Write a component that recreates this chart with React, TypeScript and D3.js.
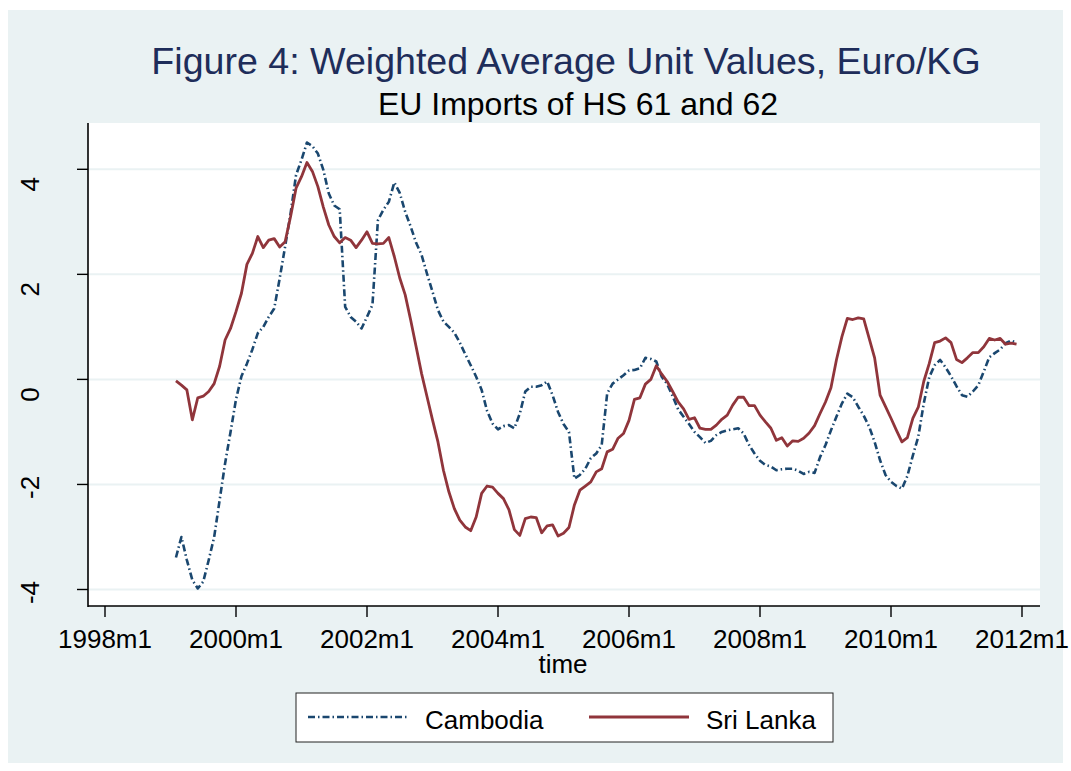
import React from "react";
import * as d3 from "d3";

// month index: 0 = 1998m1
const START_MONTH = 13; // 1999m2
const tickMonths = [0, 24, 48, 72, 96, 120, 144, 168];
const tickLabels = ["1998m1", "2000m1", "2002m1", "2004m1", "2006m1", "2008m1", "2010m1", "2012m1"];
const yTicks = [-4, -2, 0, 2, 4];
const yTickLabels = ["-4", "-2", "0", "2", "4"];

const cambodia = [
  // 1999 (Feb-Dec)
  -3.39, -3.0, -3.44, -3.82, -3.98, -3.85, -3.44, -3.0, -2.3, -1.6, -1.0,
  // 2000
  -0.38, 0.06, 0.3, 0.57, 0.88, 1.0, 1.19, 1.35, 1.92, 2.53, 3.16, 3.89,
  // 2001
  4.18, 4.51, 4.44, 4.3, 3.99, 3.54, 3.31, 3.24, 1.38, 1.19, 1.1, 0.97,
  // 2002
  1.19, 1.42, 3.03, 3.23, 3.38, 3.75, 3.55, 3.19, 2.91, 2.6, 2.37, 2.01,
  // 2003
  1.67, 1.32, 1.1, 1.0, 0.89, 0.7, 0.48, 0.27, 0.05, -0.2, -0.6, -0.84,
  // 2004
  -0.95, -0.89, -0.87, -0.93, -0.65, -0.23, -0.14, -0.14, -0.11, -0.04, -0.3, -0.62,
  // 2005
  -0.85, -1.0, -1.89, -1.82, -1.7, -1.5, -1.41, -1.25, -0.27, -0.08, 0.0, 0.08,
  // 2006
  0.17, 0.18, 0.21, 0.41, 0.39, 0.34, 0.05, -0.09, -0.32, -0.57, -0.71, -0.85,
  // 2007
  -1.0, -1.1, -1.21, -1.17, -1.06, -1.0, -0.97, -0.95, -0.93, -1.03, -1.25, -1.41,
  // 2008
  -1.55, -1.63, -1.66, -1.73, -1.71, -1.7, -1.7, -1.74, -1.8, -1.76, -1.78, -1.48,
  // 2009
  -1.25, -0.97, -0.71, -0.46, -0.27, -0.34, -0.52, -0.69, -0.9, -1.19, -1.54, -1.82,
  // 2010
  -1.95, -2.03, -2.08, -1.84, -1.45, -1.09, -0.46, 0.04, 0.27, 0.37, 0.23, 0.06,
  // 2011
  -0.13, -0.3, -0.33, -0.23, -0.11, 0.15, 0.42, 0.5, 0.57, 0.69, 0.74, 0.7,
];

const sriLanka = [
  // 1999 (Feb-Dec)
  -0.03, -0.11, -0.2, -0.77, -0.35, -0.32, -0.23, -0.08, 0.25, 0.75, 0.97,
  // 2000
  1.29, 1.64, 2.19, 2.4, 2.72, 2.51, 2.65, 2.68, 2.52, 2.62, 3.1, 3.64,
  // 2001
  3.86, 4.13, 3.96, 3.67, 3.28, 2.94, 2.72, 2.6, 2.7, 2.65, 2.51, 2.65,
  // 2002
  2.81, 2.59, 2.58, 2.59, 2.7, 2.34, 1.93, 1.61, 1.13, 0.62, 0.11, -0.33,
  // 2003
  -0.77, -1.19, -1.73, -2.14, -2.46, -2.68, -2.81, -2.88, -2.62, -2.17, -2.03, -2.05,
  // 2004
  -2.17, -2.27, -2.48, -2.86, -2.97, -2.65, -2.62, -2.63, -2.92, -2.79, -2.77, -2.98,
  // 2005
  -2.93, -2.82, -2.39, -2.11, -2.03, -1.95, -1.76, -1.7, -1.38, -1.33, -1.12, -1.03,
  // 2006
  -0.78, -0.38, -0.35, -0.09, 0.0, 0.26, 0.1, -0.04, -0.23, -0.43, -0.56, -0.76,
  // 2007
  -0.73, -0.93, -0.95, -0.95, -0.87, -0.76, -0.68, -0.49, -0.34, -0.34, -0.5, -0.5,
  // 2008
  -0.68, -0.81, -0.93, -1.16, -1.11, -1.27, -1.17, -1.18, -1.12, -1.02, -0.88, -0.65,
  // 2009
  -0.43, -0.16, 0.37, 0.81, 1.16, 1.14, 1.17, 1.15, 0.78, 0.41, -0.3, -0.52,
  // 2010
  -0.74, -0.97, -1.19, -1.11, -0.74, -0.53, -0.04, 0.3, 0.7, 0.73, 0.79, 0.7,
  // 2011
  0.38, 0.32, 0.41, 0.51, 0.51, 0.62, 0.78, 0.75, 0.78, 0.67, 0.69, 0.67,
];

const FONT = "'Liberation Sans', Arial, Helvetica, sans-serif";
const BG = "#EAF2F3";
const NAVY = "#1a476f";
const MAROON = "#90353b";

export default function App() {
  const W = 1071;
  const H = 771;
  const plot = { left: 88, right: 1040, top: 123, bottom: 606 };

  const x = d3.scaleLinear().domain([0, 168]).range([105, 1022]);
  const y = d3.scaleLinear().domain([-4, 4]).range([589.5, 169.3]);

  const line = d3
    .line<number>()
    .x((_, i) => x(START_MONTH + i))
    .y((d) => y(d));

  return (
    <svg
      width={W}
      height={H}
      style={{ position: "absolute", left: 0, top: 0, display: "block" }}
      fontFamily={FONT}
    >
      <rect x={0} y={0} width={W} height={H} fill="#ffffff" />
      <rect x={8} y={10} width={1055} height={753} fill={BG} />
      <rect
        x={plot.left}
        y={plot.top}
        width={plot.right - plot.left}
        height={plot.bottom - plot.top}
        fill="#ffffff"
      />
      {/* gridlines */}
      {yTicks.map((t) => (
        <line
          key={"g" + t}
          x1={plot.left}
          x2={plot.right}
          y1={y(t)}
          y2={y(t)}
          stroke={BG}
          strokeWidth={2}
        />
      ))}
      {/* series */}
      <path
        d={line(cambodia) || ""}
        fill="none"
        stroke={NAVY}
        strokeWidth={2.6}
        strokeDasharray="7 3 1.5 3"
        strokeLinejoin="round"
      />
      <path
        d={line(sriLanka) || ""}
        fill="none"
        stroke={MAROON}
        strokeWidth={2.8}
        strokeLinejoin="round"
      />
      {/* axes */}
      <line x1={plot.left} x2={plot.left} y1={plot.top} y2={plot.bottom + 1} stroke="#000" strokeWidth={1.6} />
      <line x1={plot.left} x2={plot.right} y1={plot.bottom} y2={plot.bottom} stroke="#000" strokeWidth={1.6} />
      {yTicks.map((t, i) => {
        const lab = yTickLabels[i];
        const dy = lab.length === 1 ? 15 : 3;
        return (
          <g key={"yt" + t}>
            <line x1={plot.left - 11} x2={plot.left} y1={y(t)} y2={y(t)} stroke="#000" strokeWidth={1.4} />
            <text
              transform={`translate(39,${y(t) + dy}) rotate(-90)`}
              textAnchor="middle"
              fontSize={26}
              fill="#000"
            >
              {lab}
            </text>
          </g>
        );
      })}
      {tickMonths.map((m, i) => (
        <g key={"xt" + m}>
          <line x1={x(m)} x2={x(m)} y1={plot.bottom} y2={plot.bottom + 11} stroke="#000" strokeWidth={1.4} />
          <text x={x(m)} y={648} textAnchor="middle" fontSize={26} fill="#000">
            {tickLabels[i]}
          </text>
        </g>
      ))}
      <text x={563} y={673} textAnchor="middle" fontSize={26} fill="#000">
        time
      </text>
      {/* titles */}
      <text x={566} y={74} textAnchor="middle" fontSize={37.6} fill="#1e2d5a">
        Figure 4: Weighted Average Unit Values, Euro/KG
      </text>
      <text x={578} y={115} textAnchor="middle" fontSize={32} fill="#000">
        EU Imports of HS 61 and 62
      </text>
      {/* legend */}
      <rect x={296} y={693} width={537} height={49} fill="#fff" stroke="#222" strokeWidth={1} />
      <line x1={308} x2={408} y1={717} y2={717} stroke={NAVY} strokeWidth={2.6} strokeDasharray="7 3 1.5 3" />
      <text x={425} y={729} fontSize={26} fill="#000">
        Cambodia
      </text>
      <line x1={589} x2={689} y1={717} y2={717} stroke={MAROON} strokeWidth={2.8} />
      <text x={706} y={729} fontSize={26} fill="#000">
        Sri Lanka
      </text>
    </svg>
  );
}
